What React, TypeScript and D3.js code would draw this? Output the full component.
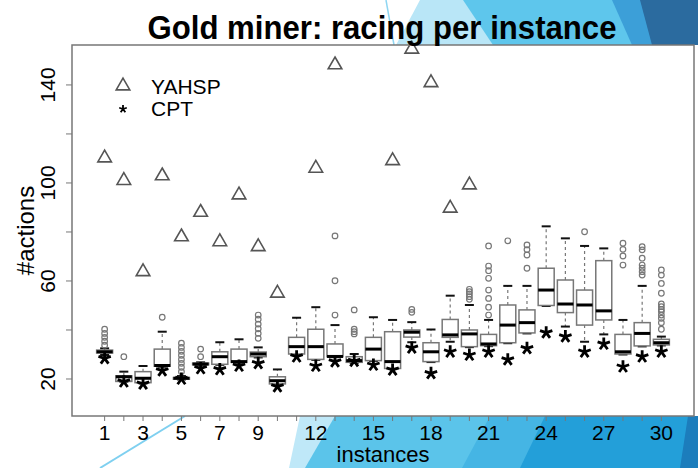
import React from "react";
import * as d3 from "d3";

const instances = d3.range(1, 31);
const xTickLabels = [1, 3, 5, 7, 9, 12, 15, 18, 21, 24, 27, 30];
const yTicks = [20, 40, 60, 80, 100, 120, 140];
const yTickLabels = [20, 60, 100, 140];

const whiskerLow = [29.8, 18.9, 18.2, 25.0, 19.8, 25.5, 25.8, 26.6, 28.8, 17.8, 30.0, 27.8, 28.9, 26.6, 27.3, 24.1, 35.0, 26.9, 35.2, 33.0, 33.4, 34.6, 38.6, 49.8, 41.4, 35.2, 38.2, 30.0, 33.3, 33.7];
const q1 = [30.6, 19.0, 18.5, 25.2, 19.9, 25.8, 26.0, 26.8, 29.1, 18.0, 30.2, 28.0, 29.1, 26.8, 27.5, 24.3, 37.1, 27.1, 37.0, 33.2, 33.6, 34.8, 38.8, 50.0, 47.1, 42.0, 44.1, 30.2, 33.5, 33.9];
const median = [31.1, 20.9, 20.3, 25.5, 20.3, 26.1, 29.1, 27.1, 30.2, 19.3, 33.2, 33.2, 29.2, 27.5, 32.2, 27.1, 39.1, 31.1, 38.0, 38.4, 34.3, 42.0, 43.0, 56.3, 50.6, 50.2, 47.8, 31.1, 38.6, 34.8];
const q3 = [31.8, 21.3, 23.0, 32.2, 20.6, 26.5, 31.1, 32.2, 31.0, 20.9, 37.0, 40.3, 34.3, 29.1, 37.0, 39.3, 40.0, 34.8, 44.3, 40.0, 38.2, 50.2, 48.2, 65.2, 60.4, 56.3, 68.3, 38.2, 43.0, 36.2];
const whiskerHigh = [32.5, 23.0, 25.3, 39.3, 21.2, 26.8, 35.0, 36.2, 32.9, 23.9, 45.0, 49.3, 42.0, 30.2, 45.2, 44.1, 43.2, 40.2, 54.0, 50.2, 44.1, 58.0, 58.0, 82.3, 77.4, 74.3, 73.3, 44.1, 58.0, 37.3];
const outliers: number[][] = [
  [33.8, 35.4, 37.0, 38.6, 40.3],
  [29.1],
  [],
  [45.2],
  [23.0, 24.8, 26.4, 28.0, 29.7, 31.3, 32.9, 34.6],
  [29.1, 32.2],
  [],
  [],
  [36.6, 38.6, 40.5, 42.4, 44.4, 46.1],
  [],
  [],
  [],
  [46.1, 60.1, 78.4],
  [38.4, 39.3, 40.3, 48.2],
  [],
  [],
  [47.2, 48.4],
  [],
  [],
  [52.5, 53.6, 54.7, 55.6, 56.6],
  [46.1, 49.3, 52.9, 56.3, 61.1, 64.2, 66.1, 74.3],
  [76.4],
  [65.2, 70.6, 72.8, 74.7],
  [],
  [],
  [80.1],
  [],
  [66.5, 70.2, 72.9, 75.4],
  [62.4, 63.8, 65.2, 66.5, 69.3, 72.7, 74.0],
  [40.3, 43.0, 44.8, 46.1, 47.5, 48.4, 49.5, 50.6, 55.0, 59.0, 62.4, 64.5],
];
const cpt = [28.4, 18.9, 18.0, 23.4, 20.0, 24.3, 23.9, 25.3, 26.4, 16.9, 29.1, 25.3, 27.1, 27.3, 25.7, 23.7, 32.7, 22.3, 31.1, 29.8, 31.1, 27.9, 32.5, 38.9, 37.3, 31.1, 34.3, 25.0, 29.1, 31.1];
const yahsp: (number | null)[] = [110.2, 101, 63.8, 102.9, 78, 88, 76, 95.1, 74, 55, null, 106, 148.2, null, null, 109.1, 154.6, 140.9, 89.7, 99.2, null, null, null, null, null, null, null, null, null, null];

const W = 698;
const H = 468;
const L = 72, R = 694, T = 45, B = 416;
const FONT = "'Liberation Sans', Arial, Helvetica, sans-serif";

const x = d3.scaleLinear().domain([-0.7, 31.7]).range([L, R]);
const y = d3.scaleLinear().domain([4.9, 156.3]).range([B, T]);

const triPath = d3.symbol().type(d3.symbolTriangle).size(80)() as string;

function Star({ cx, cy, r, w }: { cx: number; cy: number; r: number; w: number }) {
  const p = d3.path();
  for (let k = 0; k < 5; k++) {
    const a = -Math.PI / 2 + (k * 2 * Math.PI) / 5;
    p.moveTo(cx, cy);
    p.lineTo(cx + r * Math.cos(a), cy + r * Math.sin(a));
  }
  return <path d={p.toString()} stroke="#000" strokeWidth={w} strokeLinecap="butt" fill="none" />;
}

export default function App() {
  const half = 8;
  const staple = 4.5;
  return (
    <svg width={W} height={H} style={{ position: "absolute", left: 0, top: 0, background: "#fff" }} fontFamily={FONT}>
      {/* slide decoration */}
      <g>
        <polygon points="420,0 698,0 698,45 396,45" fill="#b9e6f7" />
        <polygon points="463,0 698,0 698,45 493,45" fill="#5ec6ec" />
        <polygon points="612,0 698,0 698,45 632,45" fill="#3c9fd8" />
        <polygon points="640,0 698,0 698,45 652,45" fill="#2b6b9f" />
        <line x1={386} y1={0} x2={394} y2={45} stroke="#8fd6f2" strokeWidth={1.5} />
        <polygon points="300,416 698,416 698,468 289,468" fill="#bfe8f8" />
        <polygon points="335,416 698,416 698,468 305,468" fill="#5bc4ea" />
        <polygon points="490,416 698,416 698,468 462,468" fill="#45b5e4" />
        <polygon points="545,416 698,416 698,468 520,468" fill="#239fd9" />
        <polygon points="688,416 698,416 698,468 680,468" fill="#1c7dbc" />
        <line x1={100} y1={468} x2={185} y2={416} stroke="#7fd0f0" strokeWidth={2} />
      </g>

      {/* plot region */}
      <rect x={L} y={T} width={R - L} height={B - T} fill="#fff" />

      {/* boxplots */}
      {instances.map((inst, i) => {
        const cx = x(inst);
        return (
          <g key={inst}>
            <line x1={cx} x2={cx} y1={y(q3[i])} y2={y(whiskerHigh[i])} stroke="#777" strokeWidth={1.2} strokeDasharray="3,3" />
            <line x1={cx} x2={cx} y1={y(q1[i])} y2={y(whiskerLow[i])} stroke="#777" strokeWidth={1.2} strokeDasharray="3,3" />
            <line x1={cx - staple} x2={cx + staple} y1={y(whiskerHigh[i])} y2={y(whiskerHigh[i])} stroke="#111" strokeWidth={2} />
            <line x1={cx - staple} x2={cx + staple} y1={y(whiskerLow[i])} y2={y(whiskerLow[i])} stroke="#111" strokeWidth={2} />
            <rect x={cx - half} y={y(q3[i])} width={2 * half} height={Math.max(1, y(q1[i]) - y(q3[i]))} fill="#fff" stroke="#777" strokeWidth={1.5} />
            <line x1={cx - half} x2={cx + half} y1={y(median[i])} y2={y(median[i])} stroke="#000" strokeWidth={3} />
            {outliers[i].map((o, k) => (
              <circle key={k} cx={cx} cy={y(o)} r={2.8} fill="none" stroke="#777" strokeWidth={1.2} />
            ))}
          </g>
        );
      })}

      {/* CPT stars */}
      {instances.map((inst, i) => (
        <Star key={"c" + inst} cx={x(inst)} cy={y(cpt[i])} r={6.5} w={2.8} />
      ))}

      {/* YAHSP triangles */}
      {instances.map((inst, i) =>
        yahsp[i] == null ? null : (
          <path key={"y" + inst} d={triPath} transform={`translate(${x(inst)},${y(yahsp[i] as number)})`} fill="none" stroke="#555" strokeWidth={1.6} />
        )
      )}

      {/* frame */}
      <rect x={L} y={T} width={R - L} height={B - T} fill="none" stroke="#777" strokeWidth={1.5} />

      {/* x axis */}
      {instances.map((inst) => (
        <line key={"xt" + inst} x1={x(inst)} x2={x(inst)} y1={B} y2={B + 5} stroke="#777" strokeWidth={1} />
      ))}
      {xTickLabels.map((t) => (
        <text key={"xl" + t} x={x(t)} y={440} textAnchor="middle" fontSize={21} fill="#000">{t}</text>
      ))}
      <text x={383} y={462} textAnchor="middle" fontSize={22} fill="#000">instances</text>

      {/* y axis */}
      {yTicks.map((t) => (
        <line key={"yt" + t} x1={L} x2={L - 6} y1={y(t)} y2={y(t)} stroke="#777" strokeWidth={1} />
      ))}
      {yTickLabels.map((t) => (
        <text key={"yl" + t} transform={`translate(55,${y(t)}) rotate(-90)`} textAnchor="middle" fontSize={21} fill="#000">{t}</text>
      ))}
      <text transform={`translate(34,${(T + B) / 2}) rotate(-90)`} textAnchor="middle" fontSize={24} fill="#000">#actions</text>

      {/* legend */}
      <path d={triPath} transform="translate(123,86)" fill="none" stroke="#555" strokeWidth={1.6} />
      <Star cx={123} cy={109} r={4} w={1.8} />
      <text x={151} y={94} fontSize={21} fill="#000">YAHSP</text>
      <text x={151} y={116} fontSize={21} fill="#000">CPT</text>

      {/* title */}
      <text x={382} y={39} textAnchor="middle" fontSize={33} fontWeight="bold" fill="#000" textLength={469} lengthAdjust="spacingAndGlyphs">Gold miner: racing per instance</text>
    </svg>
  );
}
